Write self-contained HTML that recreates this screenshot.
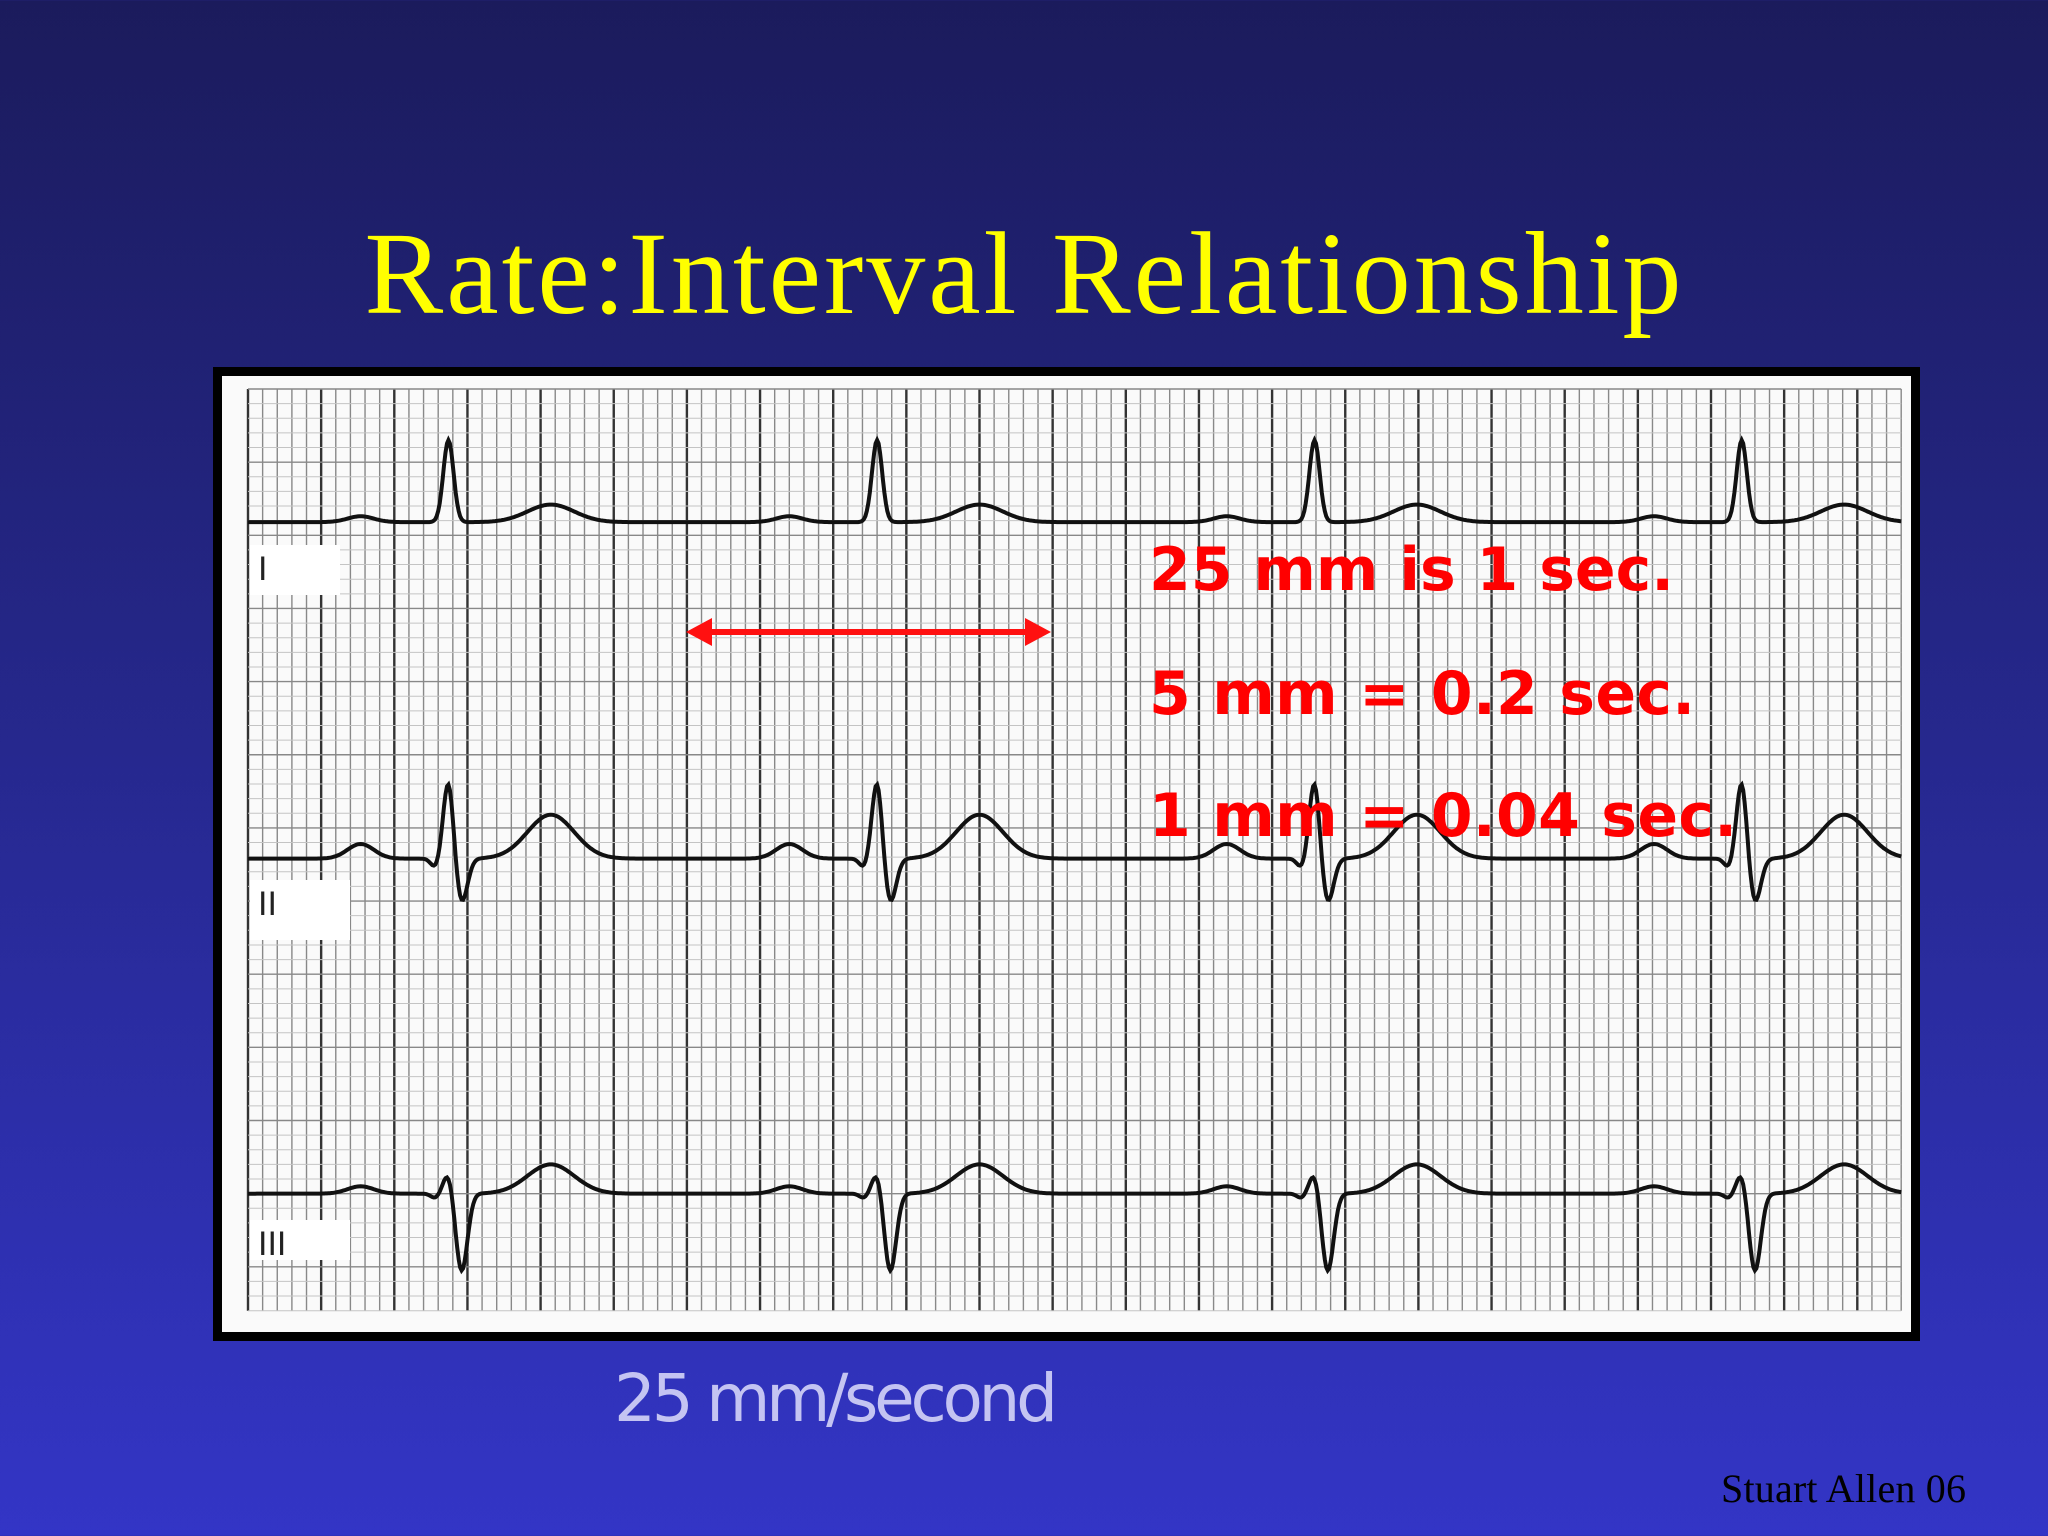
<!DOCTYPE html>
<html><head><meta charset="utf-8"><style>
html,body{margin:0;padding:0;width:2048px;height:1536px;overflow:hidden}
body{background:linear-gradient(#1b1b5c 0%,#25278a 45%,#3335c6 100%)}
</style></head><body>
<svg id="s" width="2048" height="1536" viewBox="0 0 2048 1536" xmlns="http://www.w3.org/2000/svg">
<text x="1023" y="313" text-anchor="middle" font-family="Liberation Serif, serif" font-size="118" fill="#ffff00" textLength="1317">Rate:Interval Relationship</text>
<rect x="213" y="367" width="1707" height="974" fill="#000"/>
<rect x="222" y="376" width="1689" height="956" fill="#fafafa"/>
<g id="grid"></g>
<g id="leadlabels">
<rect x="250" y="545" width="90" height="50" fill="#fff"/><text x="258" y="580" font-family="Liberation Sans, sans-serif" font-size="34" fill="#222">I</text>
<rect x="250" y="880" width="100" height="60" fill="#fff"/><text x="258" y="915" font-family="Liberation Sans, sans-serif" font-size="34" fill="#222">II</text>
<rect x="250" y="1220" width="100" height="40" fill="#fff"/><text x="258" y="1255" font-family="Liberation Sans, sans-serif" font-size="34" fill="#222">III</text>
</g>
<g id="traces"></g>
<g>
<line x1="700" y1="632" x2="1037" y2="632" stroke="#ff1010" stroke-width="6"/>
<polygon points="686,632 712,618 712,646" fill="#ff1010"/>
<polygon points="1051,632 1025,618 1025,646" fill="#ff1010"/>
</g>
<g font-family="DejaVu Sans, sans-serif" font-weight="bold" font-size="60" fill="#ff0000">
<text x="1149" y="590" textLength="525">25 mm is 1 sec.</text>
<text x="1149" y="714" textLength="546">5 mm = 0.2 sec.</text>
<text x="1149" y="836" textLength="588">1 mm = 0.04 sec.</text>
</g>
<text x="614" y="1421" font-family="DejaVu Sans, sans-serif" font-size="66" fill="#c4c4f2" textLength="444">25 mm/second</text>
<text x="1966" y="1502" text-anchor="end" font-family="Liberation Serif, serif" font-size="40" fill="#000" textLength="245">Stuart Allen 06</text>
</svg>
<script>
// ECG data (mm units)
const rPeaks=[13.7,43.0,72.9,102.1];
const leadNames=["I","II","III"];
const leadBaselines=[9.1,32.1,55.0];
const pAmp=[0.4,1.0,0.5];
const qAmp=[0,-0.6,-0.3];
const rAmp=[5.6,5.3,1.4];
const sAmp=[0,-3.0,-5.3];
const tAmp=[1.2,3.0,2.0];
const gridMM=113, gridHmm=63;
const X0=248,Y0=389,MM=14.63;
const sx=mm=>X0+mm*MM, sy=mm=>Y0+mm*MM;
const NS="http://www.w3.org/2000/svg";
const g=document.getElementById('grid');
for(let i=0;i<=gridMM;i++){
  const l=document.createElementNS(NS,'line');
  
  
  l.setAttribute('x1',sx(i));l.setAttribute('x2',sx(i));l.setAttribute('y1',sy(0));l.setAttribute('y2',sy(gridHmm));
  l.setAttribute('stroke',i%5===0?'#333':'#888');l.setAttribute('stroke-width',i%5===0?2.4:1.4);
  g.appendChild(l);
}
for(let j=0;j<=gridHmm;j++){
  const l=document.createElementNS(NS,'line');
  
  
  l.setAttribute('x1',sx(0));l.setAttribute('x2',sx(gridMM));l.setAttribute('y1',sy(j));l.setAttribute('y2',sy(j));
  l.setAttribute('stroke',j%5===0?'#888':'#c4c4c4');l.setAttribute('stroke-width',j%5===0?1.4:1);
  g.appendChild(l);
}
const gau=(x,c,w)=>Math.exp(-((x-c)*(x-c))/(2*w*w));
const tr=document.getElementById('traces');
leadNames.forEach((n,k)=>{
  let d='';
  for(let x=0;x<=gridMM;x+=0.1){
    let v=0;
    rPeaks.forEach(r=>{
      v+=pAmp[k]*gau(x,r-6,0.9)+qAmp[k]*gau(x,r-0.9,0.3)+rAmp[k]*gau(x,r,0.35)+sAmp[k]*gau(x,r+0.9,0.4)+tAmp[k]*gau(x,r+7,1.6);
    });
    d+=(d?'L':'M')+sx(x).toFixed(1)+','+sy(leadBaselines[k]-v).toFixed(1);
  }
  const p=document.createElementNS(NS,'path');
  
  
  p.setAttribute('d',d);p.setAttribute('fill','none');p.setAttribute('stroke','#111');p.setAttribute('stroke-width','4');
  tr.appendChild(p);
});
</script>
</body></html>
